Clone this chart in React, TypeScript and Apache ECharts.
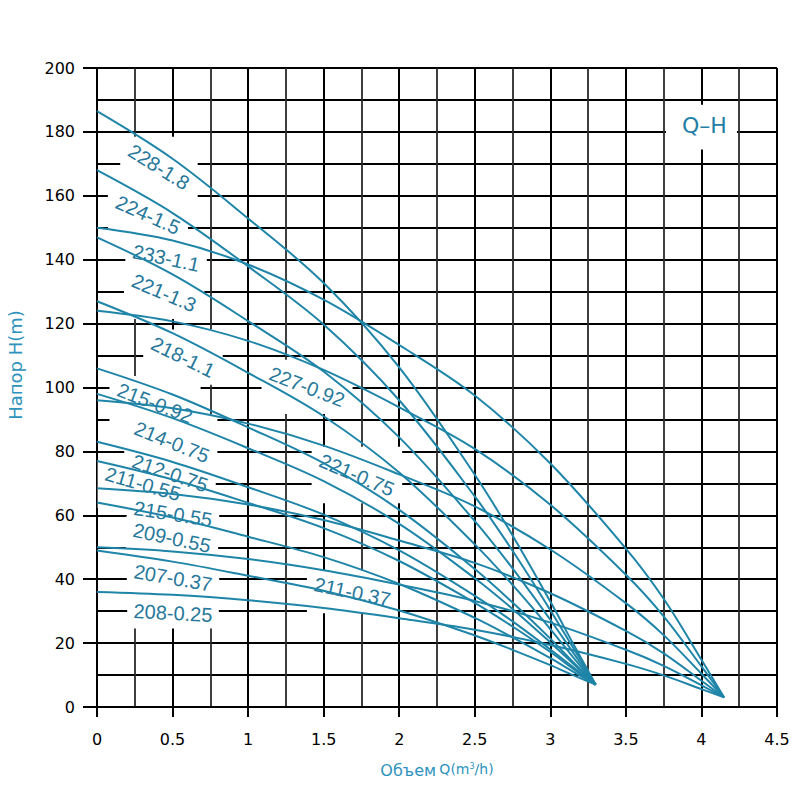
import React, { useEffect, useRef } from "react";
import * as echarts from "echarts";

// Flow points (m³/h) for the two pump families
const flowSmall = [0, 0.5, 1, 1.5, 2, 2.5, 2.75, 3, 3.15, 3.3];
const flowLarge = [0, 0.5, 1, 1.5, 2, 2.5, 3, 3.5, 3.75, 4, 4.15];

// Head (m) at each flow point – smaller-flow family
const head228_18 = [186.5, 171.6, 152.9, 132.7, 106.3, 72.7, 53.7, 33.0, 19.9, 7];
const head224_15 = [168, 154.6, 137.9, 119.7, 96.0, 65.9, 48.9, 30.3, 18.6, 7];
const head221_13 = [147, 135.4, 120.8, 105.0, 84.4, 58.2, 43.4, 27.3, 17.1, 7];
const head218_11 = [127, 117.0, 104.6, 91.0, 73.4, 50.9, 38.2, 24.4, 15.6, 7];
const head215_092 = [106, 97.8, 87.5, 76.3, 61.7, 43.2, 32.7, 21.4, 14.1, 7];
const head214_075 = [98, 90.4, 81.0, 70.7, 57.3, 40.3, 30.7, 20.2, 13.6, 7];
const head212_075 = [83, 76.7, 68.8, 60.2, 49.0, 34.8, 26.8, 18.0, 12.5, 7];
const head211_055 = [77, 71.2, 63.9, 56.0, 45.7, 32.6, 25.2, 17.2, 12.0, 7];
const head209_055 = [64, 59.3, 53.3, 46.9, 38.5, 27.9, 21.8, 15.3, 11.1, 7];
const head207_037 = [49, 45.5, 41.1, 36.4, 30.2, 22.4, 17.9, 13.1, 10.0, 7];

// Head (m) at each flow point – larger-flow family
const head233_11 = [150, 146.0, 138.5, 127.5, 113.3, 97.5, 76.2, 49.6, 33.9, 14.8, 3];
const head227_092 = [124, 120.7, 114.6, 105.5, 93.8, 80.8, 63.3, 41.4, 28.4, 12.7, 3];
const head221_075 = [96, 93.5, 88.7, 81.8, 72.8, 62.8, 49.3, 32.5, 22.5, 10.4, 3];
const head215_055 = [68.5, 66.7, 63.4, 58.5, 52.1, 45.1, 35.6, 23.8, 16.8, 8.2, 3];
const head211_037 = [50, 48.7, 46.3, 42.8, 38.3, 33.2, 26.4, 17.9, 12.9, 6.8, 3];
const head208_025 = [36, 35.1, 33.4, 31.0, 27.8, 24.2, 19.4, 13.5, 9.9, 5.6, 3];

const models = [
  "228-1.8", "224-1.5", "221-1.3", "218-1.1", "215-0.92", "214-0.75", "212-0.75",
  "211-0.55", "209-0.55", "207-0.37",
  "233-1.1", "227-0.92", "221-0.75", "215-0.55", "211-0.37", "208-0.25",
];
const heads = [
  head228_18, head224_15, head221_13, head218_11, head215_092, head214_075, head212_075,
  head211_055, head209_055, head207_037,
  head233_11, head227_092, head221_075, head215_055, head211_037, head208_025,
];
const flows = [
  flowSmall, flowSmall, flowSmall, flowSmall, flowSmall, flowSmall, flowSmall,
  flowSmall, flowSmall, flowSmall,
  flowLarge, flowLarge, flowLarge, flowLarge, flowLarge, flowLarge,
];

// Where each model name sits (data coordinates) and its slant in degrees
const labelLayout = [
  { text: "228-1.8", q: 0.41, h: 169.0, angle: 32 },
  { text: "224-1.5", q: 0.337, h: 154.0, angle: 24 },
  { text: "233-1.1", q: 0.457, h: 140.5, angle: 12 },
  { text: "221-1.3", q: 0.444, h: 129.6, angle: 23 },
  { text: "218-1.1", q: 0.569, h: 109.5, angle: 26 },
  { text: "227-0.92", q: 1.39, h: 100.2, angle: 21 },
  { text: "215-0.92", q: 0.384, h: 95.1, angle: 21 },
  { text: "214-0.75", q: 0.496, h: 82.9, angle: 22 },
  { text: "221-0.75", q: 1.72, h: 72.6, angle: 23 },
  { text: "212-0.75", q: 0.483, h: 73.2, angle: 19 },
  { text: "211-0.55", q: 0.304, h: 69.8, angle: 16 },
  { text: "215-0.55", q: 0.503, h: 60.4, angle: 9 },
  { text: "209-0.55", q: 0.496, h: 52.9, angle: 12 },
  { text: "207-0.37", q: 0.503, h: 40.4, angle: 10 },
  { text: "208-0.25", q: 0.503, h: 29.4, angle: 3 },
  { text: "211-0.37", q: 1.69, h: 36.0, angle: 12 },
];

const CURVE_COLOR = "#1f85a8";
const LABEL_COLOR = "#27789a";
const NAME_COLOR = "#2d93bd";
const LABEL_FONT_SIZE = 20;
const LABEL_FONT = `${LABEL_FONT_SIZE}px "Liberation Sans", Arial, sans-serif`;

export default function App() {
  const ref = useRef<HTMLDivElement>(null);

  useEffect(() => {
    if (!ref.current) return;
    const chart = echarts.init(ref.current, null, { renderer: "svg" });

    const series = models.map((name, i) => ({
      type: "line",
      name,
      data: flows[i].map((q, j) => [q, heads[i][j]]),
      smooth: 0.35,
      symbol: "none",
      showSymbol: false,
      silent: true,
      z: 3,
      lineStyle: { color: CURVE_COLOR, width: 2 },
    }));

    chart.setOption({
      animation: false,
      backgroundColor: "#ffffff",
      grid: { left: 97, right: 23, top: 68, bottom: 93, outerBoundsMode: "none" },
      xAxis: {
        type: "value",
        min: 0,
        max: 4.5,
        interval: 0.5,
        name: "{a|Объем} {b|Q(m}{c|3}{b|/h)}",
        nameLocation: "middle",
        nameGap: 55,
        nameTextStyle: {
          rich: {
            a: { fontSize: 16, color: NAME_COLOR, fontFamily: "DejaVu Sans" },
            b: { fontSize: 14, color: NAME_COLOR, fontFamily: "DejaVu Sans", verticalAlign: "top" },
            c: { fontSize: 8, color: NAME_COLOR, fontFamily: "DejaVu Sans", verticalAlign: "top" },
          },
        },
        axisLine: { show: true, lineStyle: { color: "#000", width: 2 } },
        axisTick: { show: true, length: 10, lineStyle: { color: "#000", width: 2 } },
        axisLabel: { fontSize: 16, color: "#000", fontFamily: "DejaVu Sans", margin: 24 },
        splitLine: { show: true, lineStyle: { color: "#000", width: 2 } },
        minorTick: { show: true, splitNumber: 2, length: 0 },
        minorSplitLine: { show: true, lineStyle: { color: "#2a2a2a", width: 1.8 } },
      },
      yAxis: {
        type: "value",
        min: 0,
        max: 200,
        interval: 20,
        axisLine: { show: true, lineStyle: { color: "#000", width: 2 } },
        axisTick: { show: true, length: 14, lineStyle: { color: "#000", width: 2 } },
        axisLabel: { fontSize: 16, color: "#000", fontFamily: "DejaVu Sans", margin: 22 },
        splitLine: { show: true, lineStyle: { color: "#000", width: 2 } },
        minorTick: { show: true, splitNumber: 2, length: 0 },
        minorSplitLine: { show: true, lineStyle: { color: "#000", width: 2 } },
      },
      series,
    });

    // White boxes and slanted model names placed in data space
    const ctx = document.createElement("canvas").getContext("2d");
    if (ctx) ctx.font = LABEL_FONT;
    const pad = 6;
    const boxes: any[] = [];
    const texts: any[] = [];
    labelLayout.forEach((l) => {
      const p = chart.convertToPixel({ gridIndex: 0 }, [l.q, l.h]) as number[];
      const w = ctx ? ctx.measureText(l.text).width : l.text.length * 10;
      const th = LABEL_FONT_SIZE * 0.75;
      const a = (l.angle * Math.PI) / 180;
      const bw = w * Math.cos(a) + th * Math.sin(a) + 2 * pad;
      const bh = w * Math.sin(a) + th * Math.cos(a) + 2 * pad;
      boxes.push({
        type: "rect",
        z: 1,
        silent: true,
        shape: { x: p[0] - bw / 2, y: p[1] - bh / 2, width: bw, height: bh },
        style: { fill: "#ffffff" },
      });
      texts.push({
        type: "text",
        z: 2,
        silent: true,
        x: p[0],
        y: p[1],
        rotation: -a,
        style: {
          text: l.text,
          x: 0,
          y: 0,
          font: LABEL_FONT,
          fill: LABEL_COLOR,
          align: "center",
          verticalAlign: "middle",
          textAlign: "center",
          textVerticalAlign: "middle",
        },
      });
    });

    // Q–H tag in the upper right corner
    const tl = chart.convertToPixel({ gridIndex: 0 }, [3.765, 188.5]) as number[];
    const br = chart.convertToPixel({ gridIndex: 0 }, [4.235, 174.5]) as number[];
    const tc = chart.convertToPixel({ gridIndex: 0 }, [4.02, 182]) as number[];
    boxes.push({
      type: "rect",
      z: 1,
      silent: true,
      shape: { x: tl[0], y: tl[1], width: br[0] - tl[0], height: br[1] - tl[1] },
      style: { fill: "#ffffff" },
    });
    texts.push({
      type: "text",
      z: 2,
      silent: true,
      x: tc[0],
      y: tc[1],
      style: {
        text: "Q–H",
        x: 0,
        y: 0,
        font: '22px "DejaVu Sans", sans-serif',
        fill: "#1f80a6",
        align: "center",
        verticalAlign: "middle",
        textAlign: "center",
        textVerticalAlign: "middle",
      },
    });

    // Vertical head-axis title
    texts.push({
      type: "text",
      z: 2,
      silent: true,
      x: 15,
      y: 365,
      rotation: Math.PI / 2,
      style: {
        text: "Напор H(m)",
        x: 0,
        y: 0,
        font: '18px "DejaVu Sans", sans-serif',
        fill: NAME_COLOR,
        align: "center",
        verticalAlign: "middle",
        textAlign: "center",
        textVerticalAlign: "middle",
      },
    });

    chart.setOption({ graphic: [...boxes, ...texts] });

    return () => chart.dispose();
  }, []);

  return (
    <div
      ref={ref}
      style={{ position: "absolute", left: 0, top: 0, width: 800, height: 800, background: "#fff" }}
    />
  );
}
